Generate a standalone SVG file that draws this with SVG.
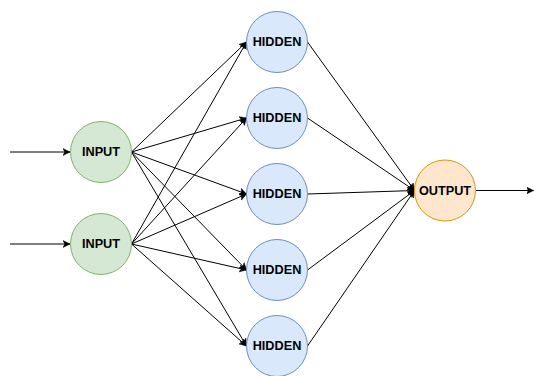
<svg xmlns="http://www.w3.org/2000/svg" width="534" height="376" viewBox="0 0 534 376">
<defs>
<style>
.in{fill:#d5e8d4;stroke:#82b366;stroke-width:1}
.hd{fill:#dae8fc;stroke:#6c8ebf;stroke-width:1}
.out{fill:#ffe6cc;stroke:#d79b00;stroke-width:1}
.lbl{font-family:"Liberation Sans",Arial,sans-serif;font-weight:bold;font-size:12.7px;fill:#000;text-anchor:middle;dominant-baseline:central}
.c{stroke:#000;stroke-width:1;fill:none;marker-end:url(#arr)}
</style>
<marker id="arr" markerUnits="userSpaceOnUse" markerWidth="8" markerHeight="8" refX="7" refY="4" orient="auto">
<path d="M0,0.5 L7,4 L0,7.5 L1.8,4 z" fill="#000" stroke="#000" stroke-width="0.5"/>
</marker>
</defs>
<rect width="534" height="376" fill="#fff"/>
<g id="connectors">
<line class="c" x1="10" y1="152" x2="70" y2="152"/>
<line class="c" x1="10" y1="244" x2="70" y2="244"/>
<line class="c" x1="131.5" y1="152" x2="246.5" y2="42"/>
<line class="c" x1="131.5" y1="152" x2="246.5" y2="118"/>
<line class="c" x1="131.5" y1="152" x2="246.5" y2="194"/>
<line class="c" x1="131.5" y1="152" x2="246.5" y2="270"/>
<line class="c" x1="131.5" y1="152" x2="246.5" y2="346"/>
<line class="c" x1="131.5" y1="244" x2="246.5" y2="42"/>
<line class="c" x1="131.5" y1="244" x2="246.5" y2="118"/>
<line class="c" x1="131.5" y1="244" x2="246.5" y2="194"/>
<line class="c" x1="131.5" y1="244" x2="246.5" y2="270"/>
<line class="c" x1="131.5" y1="244" x2="246.5" y2="346"/>
<line class="c" x1="307.5" y1="42" x2="414.5" y2="190.5"/>
<line class="c" x1="307.5" y1="118" x2="414.5" y2="190.5"/>
<line class="c" x1="307.5" y1="194" x2="414.5" y2="190.5"/>
<line class="c" x1="307.5" y1="270" x2="414.5" y2="190.5"/>
<line class="c" x1="307.5" y1="346" x2="414.5" y2="190.5"/>
<line class="c" x1="475.5" y1="190.5" x2="533.5" y2="190.5"/>
</g>
<g id="input1"><circle class="in" cx="101" cy="152" r="30.5"/><text class="lbl" x="101" y="152">INPUT</text></g>
<g id="input2"><circle class="in" cx="101" cy="244" r="30.5"/><text class="lbl" x="101" y="244">INPUT</text></g>
<g id="hidden1"><circle class="hd" cx="277" cy="42" r="30.5"/><text class="lbl" x="277" y="42">HIDDEN</text></g>
<g id="hidden2"><circle class="hd" cx="277" cy="118" r="30.5"/><text class="lbl" x="277" y="118">HIDDEN</text></g>
<g id="hidden3"><circle class="hd" cx="277" cy="194" r="30.5"/><text class="lbl" x="277" y="194">HIDDEN</text></g>
<g id="hidden4"><circle class="hd" cx="277" cy="270" r="30.5"/><text class="lbl" x="277" y="270">HIDDEN</text></g>
<g id="hidden5"><circle class="hd" cx="277" cy="346" r="30.5"/><text class="lbl" x="277" y="346">HIDDEN</text></g>
<g id="output"><circle class="out" cx="445" cy="190.5" r="30.5"/><text class="lbl" x="445" y="190.5">OUTPUT</text></g>
</svg>
